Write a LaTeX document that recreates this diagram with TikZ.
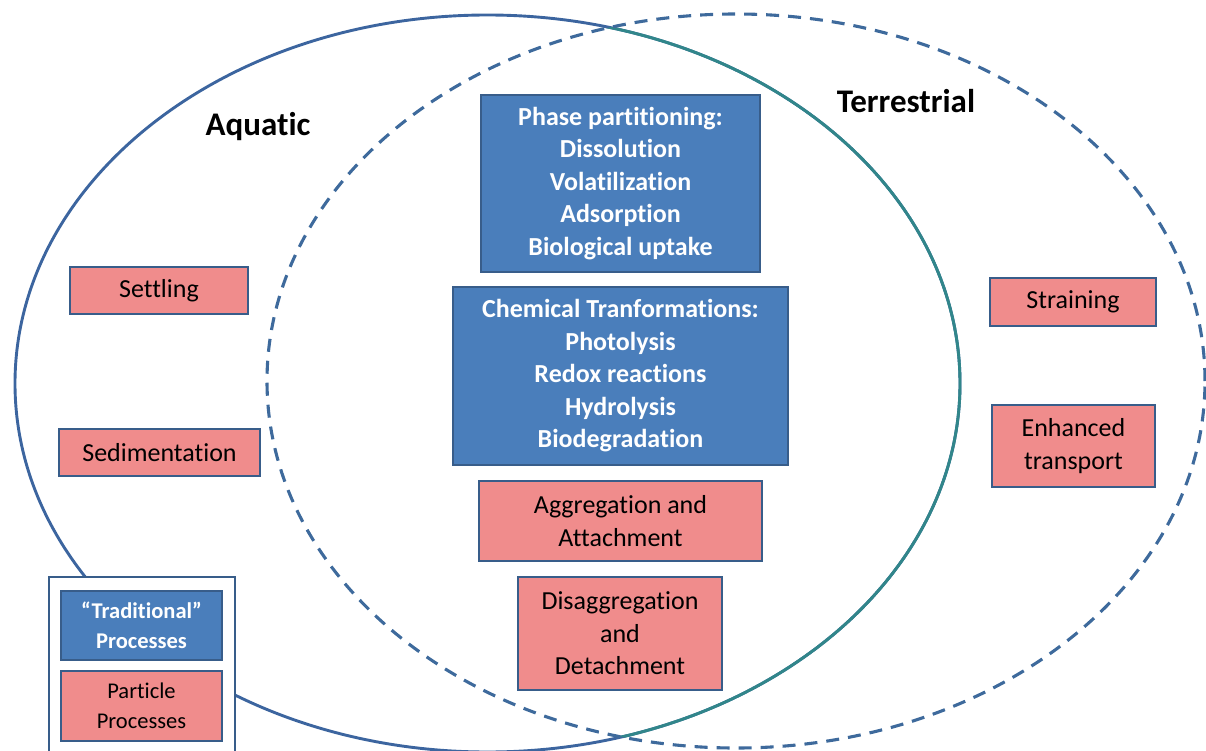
\documentclass[tikz,border=0pt]{standalone}
\usepackage{fontspec}
\setmainfont{Carlito}[Ligatures=NoCommon]
\usepackage{tikz}
\definecolor{aquablue}{HTML}{3C659F}
\definecolor{terrteal}{HTML}{31868A}
\definecolor{dashblue}{HTML}{3E6A9C}
\definecolor{tradfill}{HTML}{4A7EBB}
\definecolor{boxedge}{HTML}{385D8A}
\definecolor{partfill}{HTML}{F08C8C}
\tikzset{
    tradbox/.style={draw=boxedge, fill=tradfill, line width=2.6pt, text=white,
        align=center, inner sep=0pt, font=\fontsize{26}{32.5}\selectfont\bfseries},
    partbox/.style={draw=boxedge, fill=partfill, line width=2.6pt, text=black,
        align=center, inner sep=0pt, font=\fontsize{26}{32.5}\selectfont},
    keytext/.style={font=\fontsize{22.5}{29.5}\selectfont},
    envlabel/.style={font=\fontsize{33}{40}\selectfont\bfseries}
}

\begin{document}
\begin{tikzpicture}[x=1pt,y=-1pt]
    \clip (0,0) rectangle (1206,751);
    \useasboundingbox (0,0) rectangle (1206,751);
    % aquatic ellipse, teal where it lies in the terrestrial one
    \draw[aquablue, line width=2.9pt] (487.5,383.5) ellipse [x radius=472.5pt, y radius=368.5pt];
    \begin{scope}
        \clip (736,381) ellipse [x radius=469pt, y radius=367pt];
        \draw[terrteal, line width=2.9pt] (487.5,383.5) ellipse [x radius=472.5pt, y radius=368.5pt];
    \end{scope}
    % terrestrial ellipse
    \draw[dashblue, line width=3.1pt, dash pattern=on 13pt off 9pt] (736,381) ellipse [x radius=469pt, y radius=367pt];

    \node[envlabel] (aquatic) at (258,127) {Aquatic};
    \node[envlabel] (terrestrial) at (906,101) {Terrestrial};

    % shared processes
    \node[tradbox, minimum width=279pt, minimum height=177pt] (phase) at (620.5,183.5)
        {Phase partitioning:\\Dissolution\\Volatilization\\Adsorption\\Biological uptake};
    \node[tradbox, minimum width=335pt, minimum height=178pt] (chem) at (620.5,376)
        {Chemical Tranformations:\\Photolysis\\Redox reactions\\Hydrolysis\\Biodegradation};
    \node[partbox, minimum width=283pt, minimum height=80pt] (aggr) at (620.5,521)
        {Aggregation and\\Attachment};
    \node[partbox, minimum width=204pt, minimum height=113pt] (disaggr) at (620,633.5)
        {Disaggregation\\and\\Detachment};

    % aquatic only
    \node[partbox, minimum width=178pt, minimum height=47pt] (settling) at (159,290.5) {Settling};
    \node[partbox, minimum width=201pt, minimum height=47pt] (sediment) at (159.5,452.5) {Sedimentation};

    % terrestrial only
    \node[partbox, minimum width=166pt, minimum height=48pt] (straining) at (1073,302) {Straining};
    \node[partbox, minimum width=163pt, minimum height=82pt] (enhanced) at (1073.5,446)
        {Enhanced\\transport};

    % key
    \node[draw=boxedge, fill=white, line width=2.6pt, minimum width=186pt, minimum height=184pt] (key) at (142,669) {};
    \node[tradbox, keytext, minimum width=161pt, minimum height=69pt] (keytrad) at (141.5,625.5)
        {\bfseries “Traditional”\\\bfseries Processes};
    \node[partbox, keytext, minimum width=161pt, minimum height=70pt] (keypart) at (141.5,706)
        {Particle\\Processes};
\end{tikzpicture}
\end{document}
